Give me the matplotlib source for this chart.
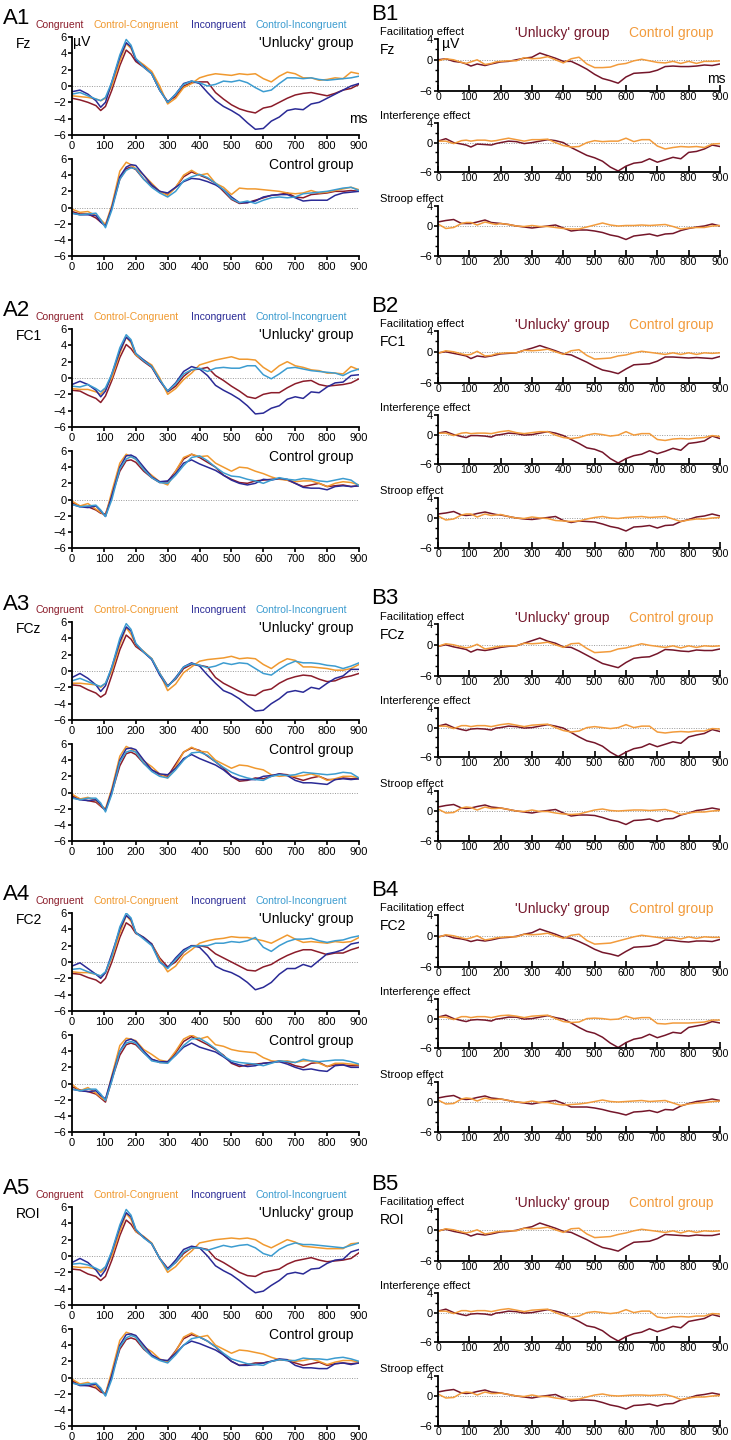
import numpy as np
import matplotlib
matplotlib.use('Agg')
import matplotlib.pyplot as plt

plt.rcParams['font.family'] = ['Liberation Sans', 'DejaVu Sans']

# ── DATA (µV) ────────────────────────────────────────────────────────────────
ms = [0, 25, 50, 75, 90, 105, 125, 150, 170, 185, 200, 225, 250, 275, 300, 325, 350, 375, 400,
      425, 450, 475, 500, 525, 550, 575, 600, 625, 650, 675, 700, 725, 750, 775, 800, 825, 850, 875, 900]

conditions = ['Congruent', 'Control-Congruent', 'Incongruent', 'Control-Incongruent']
electrodes = ['Fz', 'FC1', 'FCz', 'FC2', 'ROI']
effects = ['Facilitation effect', 'Interference effect', 'Stroop effect']

# Fz
fz_unl_c = [-1.5,-1.7,-2.0,-2.4,-3.0,-2.5,-0.5,2.5,4.4,3.9,3.0,2.3,1.5,-0.5,-1.9,-1.3,0.0,0.4,0.5,0.5,-0.8,-1.6,-2.3,-2.8,-3.1,-3.3,-2.7,-2.5,-2.0,-1.5,-1.1,-0.9,-0.8,-1.0,-1.2,-0.9,-0.5,-0.3,0.2]
fz_unl_cc = [-1.2,-1.3,-1.4,-1.6,-1.8,-1.5,0.0,3.0,5.2,4.6,3.3,2.6,1.8,0.0,-2.2,-1.5,-0.2,0.3,1.0,1.3,1.5,1.4,1.3,1.5,1.4,1.5,0.9,0.5,1.2,1.7,1.5,1.0,1.0,0.7,0.8,1.0,0.9,1.7,1.5]
fz_unl_i = [-0.7,-0.5,-1.0,-1.8,-2.6,-2.0,0.5,3.5,5.3,4.8,3.2,2.4,1.5,-0.5,-2.0,-1.0,0.3,0.6,0.3,-0.8,-1.8,-2.5,-3.0,-3.6,-4.5,-5.3,-5.2,-4.3,-3.8,-3.0,-2.8,-2.9,-2.2,-2.0,-1.5,-1.0,-0.5,0.0,0.3]
fz_unl_ci = [-1.0,-0.8,-1.2,-1.6,-1.8,-1.4,0.5,3.8,5.7,5.0,3.4,2.3,1.5,-0.5,-2.0,-1.0,0.2,0.6,0.4,0.0,0.2,0.6,0.5,0.7,0.4,-0.2,-0.7,-0.5,0.3,1.0,1.0,0.9,1.0,0.8,0.7,0.8,0.9,1.0,1.2]
fz_ctl_c = [-0.5,-0.8,-0.8,-1.3,-1.8,-2.2,0.0,3.5,4.8,5.0,4.7,3.5,2.7,2.0,1.6,2.5,3.8,4.4,4.0,3.6,3.0,2.0,1.0,0.5,0.6,0.9,1.2,1.5,1.6,1.8,1.3,1.2,1.6,1.7,1.8,2.0,2.0,2.1,2.0]
fz_ctl_cc = [-0.2,-0.6,-0.5,-1.0,-1.5,-2.1,0.3,4.5,5.6,5.3,4.8,4.0,3.0,2.0,1.5,2.5,4.0,4.6,4.0,4.2,3.0,2.5,1.6,2.4,2.3,2.3,2.2,2.1,2.0,1.8,1.7,1.8,2.1,1.8,1.9,2.1,2.3,2.5,2.2]
fz_ctl_i = [-0.7,-0.9,-0.9,-1.0,-1.8,-2.3,0.0,3.8,5.0,5.3,5.2,4.0,2.8,2.0,1.8,2.5,3.2,3.6,3.5,3.2,2.8,2.2,1.3,0.6,0.6,0.8,1.3,1.5,1.6,1.6,1.2,0.8,0.9,0.9,0.9,1.5,1.8,1.9,2.0]
fz_ctl_ci = [-0.7,-0.9,-0.8,-0.7,-1.5,-2.5,-0.3,3.5,4.6,4.9,4.8,3.5,2.5,1.8,1.3,2.0,3.3,3.8,4.1,3.7,3.0,2.2,1.1,0.6,0.8,0.5,0.9,1.2,1.3,1.2,1.3,1.7,1.8,1.9,2.0,2.2,2.4,2.5,2.1]
fz_fac_unl = [0.0,0.2,-0.3,-0.5,-0.8,-1.2,-0.8,-1.1,-0.8,-0.6,-0.4,-0.3,0.0,0.3,0.5,1.3,0.8,0.3,-0.3,-0.3,-1.0,-1.8,-2.8,-3.6,-4.0,-4.5,-3.3,-2.6,-2.5,-2.4,-2.0,-1.3,-1.2,-1.3,-1.3,-1.2,-1.0,-1.1,-0.8]
fz_fac_ctl = [-0.2,0.2,0.0,-0.5,-0.7,-0.4,0.0,-0.9,-0.7,-0.4,-0.3,-0.2,-0.2,0.4,0.2,0.3,0.6,0.0,-0.6,0.2,0.5,-0.8,-1.5,-1.5,-1.4,-0.9,-0.7,-0.2,0.1,-0.2,-0.5,-0.6,-0.3,-0.7,-0.3,-0.7,-0.3,-0.3,-0.2]
fz_int_unl = [0.3,0.8,0.0,-0.3,-0.5,-0.9,-0.3,-0.4,-0.5,-0.2,0.0,0.3,0.2,-0.2,0.0,0.3,0.6,0.4,0.0,-1.0,-1.8,-2.6,-3.1,-3.8,-5.0,-5.8,-4.8,-4.2,-4.0,-3.3,-4.0,-3.5,-3.0,-3.3,-2.0,-1.8,-1.3,-0.5,-0.8]
fz_int_ctl = [0.3,0.3,-0.2,0.4,0.5,0.3,0.5,0.5,0.3,0.4,0.6,0.9,0.6,0.3,0.6,0.6,0.7,0.0,-0.6,-0.9,-0.8,0.0,0.4,0.2,0.3,0.3,0.9,0.2,0.6,0.6,-0.7,-1.3,-1.0,-0.8,-0.9,-0.8,-1.0,-0.3,-0.2]
fz_str_unl = [0.8,1.1,1.3,0.5,0.5,0.5,0.8,1.2,0.7,0.6,0.5,0.3,0.0,-0.2,-0.4,-0.2,0.0,0.2,-0.4,-1.0,-0.8,-0.8,-1.0,-1.3,-1.8,-2.1,-2.7,-2.0,-1.8,-1.6,-2.0,-1.6,-1.5,-0.9,-0.5,-0.2,0.0,0.4,0.0]
fz_str_ctl = [0.4,-0.5,-0.3,0.5,0.7,0.7,0.2,0.8,0.5,0.3,0.5,0.3,0.0,-0.1,0.1,-0.1,-0.1,-0.3,-0.5,-0.6,-0.6,-0.2,0.2,0.6,0.2,0.0,0.1,0.1,0.2,0.1,0.2,0.3,-0.1,-0.6,-0.4,-0.3,-0.3,0.0,0.1]

# FC1
fc1_unl_c = [-1.5,-1.6,-2.1,-2.5,-3.0,-2.2,-0.3,2.5,4.1,3.6,2.8,2.0,1.3,-0.3,-1.7,-1.0,0.2,1.0,1.1,1.3,0.3,-0.3,-1.0,-1.6,-2.3,-2.5,-2.0,-1.8,-1.8,-1.2,-0.7,-0.4,-0.3,-0.8,-1.0,-0.9,-0.8,-0.6,-0.1]
fc1_unl_cc = [-1.3,-1.4,-1.4,-1.7,-2.0,-1.3,0.0,3.0,5.0,4.3,2.8,2.2,1.6,0.0,-2.0,-1.3,-0.2,0.6,1.6,1.9,2.2,2.4,2.6,2.3,2.3,2.2,1.3,0.7,1.5,2.0,1.5,1.3,1.0,0.9,0.6,0.6,0.5,1.4,1.0]
fc1_unl_i = [-0.8,-0.4,-0.8,-1.5,-2.3,-1.6,0.5,3.3,5.0,4.5,3.0,2.2,1.4,-0.3,-1.6,-0.6,0.8,1.4,1.1,0.3,-0.9,-1.5,-2.0,-2.6,-3.4,-4.4,-4.3,-3.7,-3.4,-2.6,-2.3,-2.5,-1.7,-1.8,-1.1,-0.6,-0.5,0.3,0.4]
fc1_unl_ci = [-1.0,-1.1,-0.8,-1.3,-1.7,-1.2,0.5,3.7,5.3,4.7,3.0,2.1,1.4,-0.2,-1.6,-0.7,0.5,1.0,1.2,0.8,1.2,1.3,1.2,1.2,1.5,1.5,0.4,-0.1,0.5,1.2,1.3,1.1,0.9,0.8,0.7,0.6,0.3,0.8,1.1]
fc1_ctl_c = [-0.4,-0.8,-0.9,-1.3,-1.7,-1.8,0.5,3.5,4.8,4.9,4.6,3.5,2.7,2.1,2.2,3.5,5.0,5.6,5.2,4.6,4.0,3.0,2.5,2.1,2.0,2.3,2.4,2.5,2.6,2.4,2.0,1.6,1.8,2.0,1.6,1.7,1.8,1.6,1.7]
fc1_ctl_cc = [-0.2,-0.8,-0.5,-1.2,-1.6,-2.0,1.0,4.5,5.6,5.3,5.0,3.8,3.0,2.2,1.8,3.5,5.2,5.6,5.3,5.4,4.5,4.0,3.5,4.0,3.9,3.5,3.2,2.8,2.5,2.4,2.2,2.3,2.3,2.0,1.6,2.0,2.2,2.1,1.8]
fc1_ctl_i = [-0.6,-0.9,-1.0,-0.8,-1.4,-2.1,0.5,4.0,5.4,5.5,5.2,4.0,2.8,2.2,2.3,3.2,4.5,4.9,4.4,4.0,3.6,3.0,2.4,2.0,1.8,2.0,2.5,2.4,2.6,2.5,2.0,1.5,1.4,1.4,1.2,1.6,1.7,1.6,1.7]
fc1_ctl_ci = [-0.6,-0.9,-0.8,-0.7,-1.3,-2.1,0.0,3.8,5.0,5.3,5.0,3.7,2.7,2.1,2.0,3.0,4.2,5.2,5.4,4.8,4.0,3.3,2.9,2.8,2.5,2.3,2.0,2.4,2.7,2.5,2.4,2.6,2.5,2.3,2.2,2.4,2.6,2.4,1.7]
fc1_fac_unl = [-0.2,0.0,-0.3,-0.6,-0.8,-1.3,-0.8,-1.0,-0.8,-0.6,-0.4,-0.3,-0.2,0.3,0.7,1.2,0.7,0.2,-0.4,-0.6,-1.3,-2.0,-2.8,-3.5,-3.8,-4.2,-3.3,-2.5,-2.4,-2.3,-1.8,-1.0,-1.0,-1.1,-1.2,-1.1,-1.2,-1.3,-0.9]
fc1_fac_ctl = [-0.3,0.2,0.0,-0.4,-0.6,-0.5,0.1,-0.8,-0.7,-0.4,-0.3,-0.2,-0.2,0.3,0.2,0.3,0.5,0.0,-0.5,0.2,0.4,-0.7,-1.4,-1.3,-1.2,-0.8,-0.6,-0.2,0.1,-0.1,-0.3,-0.5,-0.2,-0.5,-0.2,-0.5,-0.2,-0.3,-0.2]
fc1_int_unl = [0.3,0.6,0.0,-0.4,-0.6,-0.2,-0.2,-0.3,-0.5,-0.1,0.0,0.3,0.2,-0.1,0.0,0.3,0.6,0.3,-0.2,-1.0,-1.8,-2.7,-3.0,-3.6,-4.9,-5.8,-4.9,-4.3,-4.0,-3.3,-3.9,-3.4,-2.8,-3.2,-1.8,-1.6,-1.3,-0.3,-0.8]
fc1_int_ctl = [0.3,0.3,-0.2,0.3,0.4,0.2,0.3,0.3,0.2,0.4,0.6,0.8,0.4,0.2,0.4,0.6,0.6,-0.1,-0.6,-0.8,-0.6,-0.1,0.2,0.0,-0.3,-0.1,0.6,-0.1,0.2,0.2,-1.0,-1.2,-0.9,-0.8,-0.9,-0.7,-0.6,-0.2,-0.4]
fc1_str_unl = [0.8,1.0,1.3,0.6,0.5,0.6,0.9,1.2,0.9,0.7,0.6,0.3,0.0,-0.2,-0.3,-0.1,0.1,0.3,-0.5,-0.9,-0.6,-0.7,-0.8,-1.2,-1.7,-2.0,-2.6,-1.8,-1.7,-1.5,-2.0,-1.5,-1.4,-0.7,-0.3,0.2,0.4,0.8,0.4]
fc1_str_ctl = [0.4,-0.4,-0.2,0.6,0.8,0.8,0.2,0.8,0.5,0.6,0.7,0.3,0.0,-0.1,0.2,0.0,-0.1,-0.5,-0.6,-0.7,-0.6,-0.2,0.1,0.3,0.0,-0.1,0.1,0.2,0.3,0.1,0.2,0.3,-0.2,-0.7,-0.4,-0.2,-0.2,0.0,0.1]

# FCz
fcz_unl_c = [-1.7,-1.8,-2.3,-2.7,-3.2,-2.8,-0.5,2.6,4.4,3.9,3.0,2.3,1.5,-0.3,-1.8,-1.0,0.3,0.8,0.7,0.5,-0.8,-1.5,-2.0,-2.5,-2.9,-3.0,-2.4,-2.2,-1.5,-1.0,-0.7,-0.5,-0.6,-1.0,-1.3,-1.2,-0.8,-0.6,-0.3]
fcz_unl_cc = [-1.5,-1.5,-1.6,-1.7,-2.0,-1.5,0.0,3.2,5.3,4.5,3.2,2.4,1.5,-0.3,-2.4,-1.6,-0.2,0.5,1.2,1.4,1.5,1.6,1.8,1.5,1.6,1.5,0.8,0.3,1.0,1.5,1.3,0.5,0.5,0.4,0.3,0.1,0.1,0.3,0.8]
fcz_unl_i = [-0.8,-0.3,-0.9,-1.7,-2.5,-1.8,0.5,3.6,5.4,4.9,3.3,2.3,1.4,-0.5,-1.9,-0.8,0.5,1.0,0.6,-0.5,-1.5,-2.4,-2.8,-3.4,-4.2,-4.9,-4.8,-4.0,-3.4,-2.6,-2.4,-2.6,-2.0,-2.2,-1.5,-0.9,-0.6,0.2,0.2]
fcz_unl_ci = [-1.2,-0.9,-1.3,-1.7,-1.9,-1.5,0.5,4.0,5.8,5.1,3.4,2.3,1.5,-0.3,-1.9,-0.9,0.5,0.9,0.7,0.4,0.6,1.0,0.8,1.0,0.9,0.3,-0.3,-0.5,0.2,0.8,1.2,1.0,1.0,0.9,0.7,0.6,0.3,0.6,1.0]
fcz_ctl_c = [-0.4,-0.8,-1.0,-1.2,-1.7,-2.2,0.0,3.3,4.8,5.0,4.7,3.6,2.8,2.2,2.0,3.5,5.0,5.5,5.2,4.5,3.8,3.0,2.0,1.4,1.5,1.8,1.7,2.0,2.3,2.2,1.8,1.5,1.8,2.0,1.6,1.6,1.8,1.7,1.7]
fcz_ctl_cc = [-0.2,-0.8,-0.6,-1.0,-1.6,-2.0,0.5,4.5,5.7,5.4,5.0,3.9,3.2,2.3,1.8,3.2,5.0,5.6,5.1,5.0,4.0,3.5,3.0,3.4,3.3,3.0,2.8,2.2,2.0,2.1,2.0,2.1,2.3,2.0,1.5,1.7,2.0,2.0,1.8]
fcz_ctl_i = [-0.6,-0.9,-1.0,-0.9,-1.5,-2.2,0.2,4.0,5.4,5.5,5.3,4.0,2.8,2.3,2.2,3.0,4.2,4.7,4.2,3.8,3.4,2.8,2.0,1.6,1.6,1.6,2.0,2.1,2.3,2.1,1.5,1.2,1.2,1.1,1.0,1.6,1.7,1.6,1.7]
fcz_ctl_ci = [-0.7,-0.9,-0.7,-0.7,-1.3,-2.4,-0.2,3.8,5.0,5.2,5.0,3.6,2.6,2.0,1.8,2.8,4.0,4.9,5.0,4.6,3.8,3.1,2.5,2.1,1.8,1.6,1.5,2.0,2.2,2.1,2.2,2.5,2.4,2.3,2.2,2.3,2.5,2.4,1.8]
fcz_fac_unl = [-0.3,0.0,-0.4,-0.7,-0.9,-1.4,-0.9,-1.1,-0.9,-0.7,-0.5,-0.3,-0.2,0.3,0.8,1.3,0.7,0.3,-0.4,-0.5,-1.2,-2.0,-2.8,-3.6,-4.0,-4.4,-3.4,-2.6,-2.4,-2.3,-1.7,-0.9,-1.0,-1.2,-1.3,-1.0,-1.1,-1.1,-0.8]
fcz_fac_ctl = [-0.3,0.2,0.0,-0.4,-0.6,-0.4,0.1,-0.8,-0.6,-0.4,-0.3,-0.2,-0.2,0.3,0.2,0.3,0.5,0.0,-0.5,0.2,0.3,-0.7,-1.5,-1.4,-1.3,-0.8,-0.6,-0.2,0.2,-0.1,-0.3,-0.5,-0.2,-0.6,-0.2,-0.5,-0.2,-0.3,-0.2]
fcz_int_unl = [0.3,0.7,0.0,-0.4,-0.6,-0.3,-0.2,-0.3,-0.5,-0.1,0.0,0.3,0.2,-0.1,0.0,0.3,0.6,0.3,-0.1,-1.0,-1.9,-2.7,-3.1,-3.8,-5.0,-5.9,-5.0,-4.3,-4.0,-3.3,-3.9,-3.4,-2.9,-3.2,-1.9,-1.5,-1.2,-0.4,-0.8]
fcz_int_ctl = [0.3,0.3,-0.2,0.4,0.4,0.2,0.4,0.4,0.2,0.4,0.6,0.8,0.5,0.2,0.5,0.6,0.7,0.0,-0.6,-0.9,-0.7,0.0,0.2,0.0,-0.2,0.0,0.6,0.0,0.3,0.3,-0.9,-1.1,-0.9,-0.8,-0.9,-0.7,-0.7,-0.2,-0.3]
fcz_str_unl = [0.8,1.1,1.3,0.6,0.5,0.6,0.9,1.2,0.8,0.7,0.6,0.3,0.0,-0.2,-0.4,-0.1,0.1,0.3,-0.4,-1.0,-0.8,-0.8,-0.9,-1.3,-1.8,-2.1,-2.7,-1.9,-1.8,-1.6,-2.1,-1.6,-1.5,-0.8,-0.4,0.1,0.3,0.6,0.3]
fcz_str_ctl = [0.4,-0.4,-0.3,0.6,0.8,0.7,0.2,0.8,0.5,0.5,0.6,0.3,0.0,-0.1,0.2,-0.1,-0.1,-0.4,-0.6,-0.7,-0.6,-0.2,0.2,0.4,0.1,0.0,0.1,0.2,0.2,0.1,0.2,0.3,-0.1,-0.7,-0.4,-0.2,-0.2,0.0,0.1]

# FC2
fc2_unl_c = [-1.4,-1.5,-1.9,-2.2,-2.6,-2.0,0.0,3.0,4.8,4.4,3.5,3.0,2.2,0.5,-0.6,0.0,1.2,2.0,2.0,1.8,1.0,0.5,0.0,-0.5,-1.0,-1.1,-0.6,-0.3,0.3,0.8,1.2,1.5,1.5,1.2,0.9,1.1,1.1,1.5,1.8]
fc2_unl_cc = [-1.2,-1.3,-1.3,-1.5,-1.8,-1.3,0.5,3.5,5.7,5.0,3.6,3.0,2.2,0.3,-1.2,-0.5,0.8,1.5,2.3,2.6,2.8,2.9,3.1,3.0,3.0,2.8,2.6,2.3,2.8,3.3,2.8,2.4,2.5,2.4,2.3,2.5,2.4,2.5,3.0]
fc2_unl_i = [-0.5,-0.1,-0.8,-1.5,-2.0,-1.3,1.0,4.0,5.7,5.2,3.6,3.0,2.2,0.0,-0.7,0.5,1.5,2.0,1.8,0.8,-0.5,-1.0,-1.3,-1.8,-2.5,-3.4,-3.1,-2.5,-1.5,-0.8,-0.8,-0.3,-0.6,0.2,1.0,1.2,1.5,2.2,2.4]
fc2_unl_ci = [-0.9,-0.8,-1.2,-1.5,-1.7,-1.2,0.7,4.3,6.0,5.4,3.6,2.8,2.0,0.0,-0.8,0.3,1.3,1.9,2.0,2.0,2.3,2.3,2.5,2.4,2.6,3.0,1.8,1.3,2.0,2.5,2.8,2.8,2.9,2.6,2.4,2.6,2.7,3.0,3.2]
fc2_ctl_c = [-0.4,-0.8,-1.0,-1.3,-1.8,-2.3,0.5,3.5,4.8,5.0,4.8,3.8,3.0,2.6,2.6,3.8,5.2,5.8,5.3,4.8,4.2,3.5,2.5,2.1,2.3,2.4,2.5,2.6,2.8,2.6,2.2,2.0,2.5,2.6,2.1,2.3,2.3,2.2,2.2]
fc2_ctl_cc = [-0.1,-0.9,-0.5,-1.2,-1.7,-2.1,1.0,4.7,5.6,5.5,5.3,4.2,3.6,2.9,2.7,4.0,5.5,6.0,5.5,5.8,4.8,4.6,4.2,4.0,3.9,3.8,3.2,2.8,2.7,2.8,2.6,2.8,2.8,2.5,2.1,2.5,2.5,2.4,2.3]
fc2_ctl_i = [-0.7,-0.9,-1.0,-0.9,-1.5,-1.9,0.8,4.0,5.3,5.5,5.2,4.0,3.0,2.7,2.7,3.5,4.5,5.0,4.5,4.2,3.9,3.3,2.6,2.3,2.1,2.2,2.5,2.6,2.7,2.4,2.0,1.7,1.8,1.6,1.5,2.2,2.3,2.0,2.0]
fc2_ctl_ci = [-0.7,-0.9,-0.7,-0.7,-1.3,-2.1,0.3,4.0,5.0,5.2,5.0,3.8,2.8,2.6,2.5,3.5,4.7,5.5,5.6,5.0,4.3,3.4,2.8,2.6,2.5,2.4,2.2,2.5,2.8,2.7,2.6,3.0,2.8,2.7,2.8,2.9,2.9,2.7,2.4]
fc2_fac_unl = [-0.2,0.1,-0.4,-0.6,-0.8,-1.1,-0.8,-1.0,-0.8,-0.6,-0.4,-0.3,-0.1,0.3,0.6,1.3,0.8,0.3,-0.3,-0.5,-1.1,-1.8,-2.6,-3.2,-3.5,-3.9,-3.0,-2.2,-2.1,-2.0,-1.6,-0.8,-0.9,-1.1,-1.2,-1.0,-1.0,-1.1,-0.7]
fc2_fac_ctl = [-0.3,0.2,0.0,-0.4,-0.6,-0.4,0.0,-0.8,-0.6,-0.4,-0.3,-0.2,-0.2,0.3,0.2,0.3,0.5,0.0,-0.5,0.1,0.3,-0.9,-1.6,-1.5,-1.4,-1.0,-0.6,-0.2,0.1,-0.1,-0.3,-0.5,-0.3,-0.6,-0.2,-0.5,-0.2,-0.3,-0.3]
fc2_int_unl = [0.3,0.7,0.0,-0.4,-0.6,-0.3,-0.2,-0.3,-0.5,-0.1,0.0,0.3,0.3,-0.1,0.0,0.3,0.6,0.2,-0.1,-0.9,-1.8,-2.6,-3.0,-3.8,-5.0,-5.9,-4.9,-4.2,-3.9,-3.2,-3.9,-3.4,-2.8,-3.0,-1.8,-1.5,-1.2,-0.6,-0.9]
fc2_int_ctl = [0.3,0.3,-0.2,0.4,0.4,0.2,0.4,0.4,0.2,0.4,0.6,0.7,0.5,0.2,0.5,0.6,0.7,0.0,-0.6,-0.8,-0.7,0.0,0.1,0.0,-0.2,-0.1,0.5,0.0,0.2,0.2,-1.0,-1.1,-0.9,-0.9,-0.9,-0.8,-0.7,-0.3,-0.3]
fc2_str_unl = [0.8,1.1,1.3,0.6,0.5,0.6,0.9,1.2,0.8,0.7,0.6,0.3,0.0,-0.2,-0.4,-0.1,0.1,0.3,-0.3,-1.0,-1.0,-1.0,-1.2,-1.5,-1.9,-2.2,-2.6,-2.0,-1.9,-1.7,-2.1,-1.5,-1.6,-0.8,-0.3,0.1,0.3,0.6,0.3]
fc2_str_ctl = [0.4,-0.4,-0.3,0.6,0.8,0.7,0.2,0.8,0.5,0.5,0.6,0.3,0.0,-0.1,0.2,-0.1,-0.1,-0.4,-0.6,-0.5,-0.4,-0.2,0.1,0.4,0.1,0.0,0.1,0.2,0.3,0.1,0.2,0.3,-0.2,-0.7,-0.4,-0.2,-0.1,0.1,0.2]

# ROI
roi_unl_c = [-1.6,-1.7,-2.2,-2.5,-3.0,-2.5,-0.5,2.5,4.4,3.9,3.0,2.3,1.5,-0.3,-1.5,-0.8,0.3,1.0,1.0,0.8,-0.3,-0.8,-1.4,-2.0,-2.4,-2.5,-2.0,-1.8,-1.6,-1.0,-0.6,-0.4,-0.2,-0.5,-0.7,-0.6,-0.5,-0.3,0.4]
roi_unl_cc = [-1.3,-1.4,-1.4,-1.6,-2.0,-1.5,0.0,3.0,5.2,4.5,3.0,2.4,1.6,-0.3,-2.0,-1.3,-0.2,0.6,1.6,1.8,2.0,2.1,2.2,2.1,2.2,2.0,1.4,1.0,1.5,2.0,1.7,1.2,1.1,1.0,0.9,0.9,0.9,1.5,1.6]
roi_unl_i = [-0.8,-0.3,-0.8,-1.7,-2.5,-1.7,0.5,3.5,5.3,4.8,3.2,2.3,1.5,-0.3,-1.6,-0.5,0.8,1.2,1.0,0.0,-1.2,-1.8,-2.3,-3.0,-3.8,-4.5,-4.3,-3.6,-3.0,-2.2,-2.0,-2.2,-1.6,-1.5,-0.9,-0.5,-0.4,0.5,0.8]
roi_unl_ci = [-1.0,-0.9,-1.1,-1.5,-1.8,-1.3,0.6,3.8,5.7,5.0,3.3,2.2,1.5,-0.3,-1.7,-0.8,0.5,1.0,1.0,0.7,1.0,1.3,1.1,1.3,1.4,1.0,0.3,0.0,0.8,1.3,1.6,1.4,1.4,1.3,1.2,1.1,1.0,1.3,1.6]
roi_ctl_c = [-0.4,-0.9,-1.0,-1.3,-1.8,-2.0,0.3,3.5,4.7,4.9,4.7,3.5,2.7,2.2,2.0,3.3,4.8,5.3,5.0,4.5,3.8,2.8,2.0,1.5,1.6,1.8,1.8,2.0,2.2,2.1,1.8,1.5,1.7,1.9,1.5,1.7,1.8,1.7,1.8]
roi_ctl_cc = [-0.2,-0.8,-0.6,-1.1,-1.6,-2.0,0.8,4.6,5.6,5.4,5.0,3.8,3.2,2.3,1.9,3.2,5.0,5.5,5.0,5.2,4.0,3.5,3.0,3.4,3.3,3.1,2.9,2.5,2.2,2.2,2.0,2.1,2.3,2.0,1.6,1.9,2.1,2.1,1.9]
roi_ctl_i = [-0.6,-1.0,-1.0,-0.8,-1.5,-2.2,0.3,4.0,5.3,5.4,5.2,4.0,2.8,2.2,2.1,3.0,4.0,4.5,4.2,3.8,3.4,2.8,2.0,1.5,1.5,1.6,1.8,2.0,2.3,2.2,1.5,1.2,1.2,1.1,1.1,1.7,1.8,1.6,1.8]
roi_ctl_ci = [-0.7,-0.9,-0.8,-0.7,-1.3,-2.3,-0.2,3.8,4.9,5.2,5.0,3.6,2.6,2.1,1.8,2.8,4.0,4.8,5.0,4.5,3.8,3.0,2.3,2.0,1.7,1.6,1.5,2.0,2.2,2.1,2.1,2.4,2.3,2.3,2.2,2.4,2.5,2.3,2.0]
roi_fac_unl = [-0.2,0.1,-0.3,-0.6,-0.8,-1.2,-0.8,-1.0,-0.8,-0.6,-0.4,-0.3,-0.1,0.3,0.6,1.3,0.8,0.3,-0.3,-0.5,-1.2,-1.9,-2.7,-3.4,-3.7,-4.1,-3.2,-2.4,-2.3,-2.2,-1.7,-0.9,-1.0,-1.1,-1.2,-1.0,-1.1,-1.1,-0.8]
roi_fac_ctl = [-0.3,0.2,0.0,-0.4,-0.6,-0.4,0.0,-0.8,-0.6,-0.4,-0.3,-0.2,-0.2,0.3,0.2,0.3,0.5,0.0,-0.5,0.2,0.3,-0.8,-1.5,-1.4,-1.3,-0.9,-0.6,-0.2,0.1,-0.1,-0.3,-0.5,-0.2,-0.6,-0.2,-0.5,-0.2,-0.3,-0.2]
roi_int_unl = [0.3,0.7,0.0,-0.4,-0.6,-0.3,-0.2,-0.3,-0.5,-0.1,0.0,0.3,0.2,-0.1,0.0,0.3,0.6,0.3,-0.1,-1.0,-1.8,-2.7,-3.0,-3.7,-4.9,-5.8,-4.9,-4.3,-4.0,-3.3,-3.9,-3.4,-2.8,-3.1,-1.8,-1.5,-1.2,-0.4,-0.8]
roi_int_ctl = [0.3,0.3,-0.2,0.4,0.4,0.2,0.4,0.4,0.2,0.4,0.6,0.8,0.5,0.2,0.5,0.6,0.7,0.0,-0.6,-0.9,-0.7,0.0,0.2,0.0,-0.2,0.0,0.6,0.0,0.3,0.3,-0.9,-1.1,-0.9,-0.8,-0.9,-0.7,-0.7,-0.2,-0.3]
roi_str_unl = [0.8,1.1,1.3,0.6,0.5,0.6,0.9,1.2,0.8,0.7,0.6,0.3,0.0,-0.2,-0.4,-0.1,0.1,0.3,-0.4,-1.0,-0.8,-0.8,-0.9,-1.3,-1.8,-2.1,-2.6,-1.9,-1.8,-1.6,-2.0,-1.6,-1.5,-0.8,-0.4,0.1,0.3,0.6,0.3]
roi_str_ctl = [0.4,-0.4,-0.3,0.6,0.8,0.7,0.2,0.8,0.5,0.5,0.6,0.3,0.0,-0.1,0.2,-0.1,-0.1,-0.4,-0.6,-0.7,-0.6,-0.2,0.2,0.4,0.1,0.0,0.1,0.2,0.2,0.1,0.2,0.3,-0.1,-0.7,-0.4,-0.2,-0.2,0.0,0.1]

unlucky_sets = [
    [fz_unl_c, fz_unl_cc, fz_unl_i, fz_unl_ci],
    [fc1_unl_c, fc1_unl_cc, fc1_unl_i, fc1_unl_ci],
    [fcz_unl_c, fcz_unl_cc, fcz_unl_i, fcz_unl_ci],
    [fc2_unl_c, fc2_unl_cc, fc2_unl_i, fc2_unl_ci],
    [roi_unl_c, roi_unl_cc, roi_unl_i, roi_unl_ci],
]
control_sets = [
    [fz_ctl_c, fz_ctl_cc, fz_ctl_i, fz_ctl_ci],
    [fc1_ctl_c, fc1_ctl_cc, fc1_ctl_i, fc1_ctl_ci],
    [fcz_ctl_c, fcz_ctl_cc, fcz_ctl_i, fcz_ctl_ci],
    [fc2_ctl_c, fc2_ctl_cc, fc2_ctl_i, fc2_ctl_ci],
    [roi_ctl_c, roi_ctl_cc, roi_ctl_i, roi_ctl_ci],
]
effect_sets = [
    [(fz_fac_unl, fz_fac_ctl), (fz_int_unl, fz_int_ctl), (fz_str_unl, fz_str_ctl)],
    [(fc1_fac_unl, fc1_fac_ctl), (fc1_int_unl, fc1_int_ctl), (fc1_str_unl, fc1_str_ctl)],
    [(fcz_fac_unl, fcz_fac_ctl), (fcz_int_unl, fcz_int_ctl), (fcz_str_unl, fcz_str_ctl)],
    [(fc2_fac_unl, fc2_fac_ctl), (fc2_int_unl, fc2_int_ctl), (fc2_str_unl, fc2_str_ctl)],
    [(roi_fac_unl, roi_fac_ctl), (roi_int_unl, roi_int_ctl), (roi_str_unl, roi_str_ctl)],
]

# ── STYLE ────────────────────────────────────────────────────────────────────
cond_colors = ['#8B1C2A', '#F0992F', '#2A2A96', '#3C9CD0']
unl_color = '#74162A'
ctl_color = '#F29B3C'

W, H = 731, 1440
fig = plt.figure(figsize=(W / 100, H / 100), dpi=100)


def box(x0, y0, x1, y1):
    return [x0 / W, 1 - y1 / H, (x1 - x0) / W, (y1 - y0) / H]


def ftext(x, y, s, **kw):
    fig.text(x / W, 1 - y / H, s, va='center', **kw)


def base_style(ax):
    ax.set_xlim(0, 900)
    ax.set_xticks(range(0, 901, 100))
    for s in ['top', 'right']:
        ax.spines[s].set_visible(False)
    for s in ['left', 'bottom']:
        ax.spines[s].set_linewidth(1.3)
    ax.tick_params(labelsize=8, width=1.2, length=3, pad=1)
    ax.axhline(0, color='#999999', lw=0.7, ls=(0, (1, 1.5)), zorder=0)
    ax.patch.set_alpha(0)


row_tops = [37, 329, 622, 913, 1207]

for r in range(5):
    y0 = row_tops[r]

    # ---- A column ----
    ax_u = fig.add_axes(box(72, y0, 359, y0 + 98))
    ax_c = fig.add_axes(box(72, y0 + 122, 359, y0 + 219))
    for ax, sets in [(ax_u, unlucky_sets[r]), (ax_c, control_sets[r])]:
        base_style(ax)
        ax.set_ylim(-6, 6)
        ax.set_yticks(range(-6, 7, 2))
        for vals, col in zip(sets, cond_colors):
            ax.plot(ms, vals, color=col, lw=1.1)
    ax_u.text(0.98, 0.94, "'Unlucky' group", transform=ax_u.transAxes, ha='right', va='center', fontsize=10)
    ax_c.text(0.98, 0.94, 'Control group', transform=ax_c.transAxes, ha='right', va='center', fontsize=10)

    ftext(3, y0 - 18, 'A%d' % (r + 1), fontsize=16)
    ftext(16, y0 + 7, electrodes[r], fontsize=10)
    for x, name, col in zip([35, 93, 191, 256], conditions, cond_colors):
        ftext(x, y0 - 12, name, fontsize=7.5, color=col)

    # ---- B column ----
    b_rows = [(y0 + 2, y0 + 54), (y0 + 86, y0 + 135), (y0 + 169, y0 + 219)]
    for (by0, by1), label, (unl, ctl) in zip(b_rows, effects, effect_sets[r]):
        ax = fig.add_axes(box(438, by0, 720, by1))
        base_style(ax)
        ax.set_ylim(-6, 4)
        ax.set_yticks([-6, 0, 4])
        ax.set_yticks([-4, -2, 2], minor=True)
        ax.tick_params(axis='y', which='minor', length=2, width=1.0)
        ax.tick_params(axis='x', direction='in', length=4, labelsize=7.5)
        ax.plot(ms, unl, color=unl_color, lw=1.1)
        ax.plot(ms, ctl, color=ctl_color, lw=1.1)
        ftext(380, by0 - 7, label, fontsize=8)

    ftext(371, y0 - 23, 'B%d' % (r + 1), fontsize=16)
    ftext(380, y0 + 13, electrodes[r], fontsize=10)
    ftext(515, y0 - 4, "'Unlucky' group", fontsize=10, color=unl_color)
    ftext(629, y0 - 4, 'Control group', fontsize=10, color=ctl_color)

# units, first row only
ftext(73, 42, 'µV', fontsize=10)
ftext(349, 119, 'ms', fontsize=10)
ftext(442, 44, 'µV', fontsize=10)
ftext(707, 79, 'ms', fontsize=10)

fig.savefig('out.png', dpi=100)
